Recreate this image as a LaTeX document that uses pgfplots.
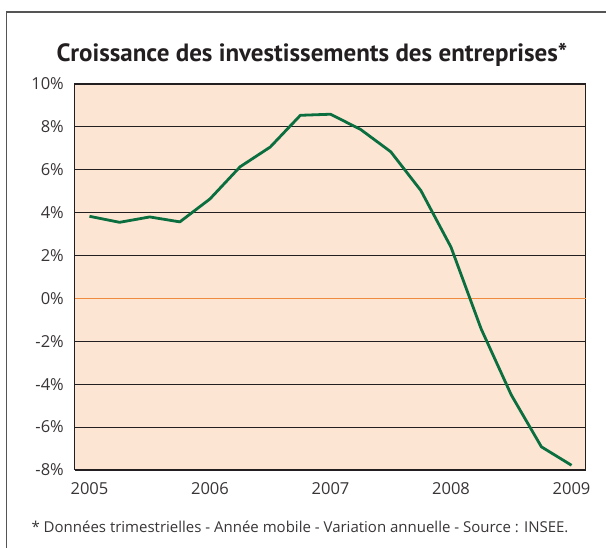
\documentclass[border=0pt]{standalone}
\usepackage{pgfplots}
\pgfplotsset{compat=1.18}
\usepackage{fontspec}
\setmainfont{Open Sans}
\newfontfamily\titlefont{PT Sans}
\definecolor{peach}{HTML}{FDE5D3}
\definecolor{dgreen}{HTML}{0A6E3F}
\definecolor{zorange}{HTML}{F08A3C}
\definecolor{gridk}{HTML}{231F20}
\definecolor{framegray}{HTML}{555555}
\begin{document}
\begin{tikzpicture}[x=1pt,y=1pt]
\useasboundingbox (0,0) rectangle (606,548);
\draw[framegray, line width=1.3pt] (6.7,0) -- (6.7,536) -- (606,536);
\node[anchor=base, font=\titlefont\fontsize{25}{30}\selectfont\bfseries, text=gridk] at (312,486) {Croissance des investissements des entreprises*};
\begin{axis}[
  at={(75pt,78pt)}, anchor=south west,
  scale only axis, width=511pt, height=386pt,
  xmin=2004.88, xmax=2009.12,
  ymin=-8, ymax=10,
  axis background/.style={fill=peach},
  axis line style={gridk, line width=1pt},
  xtick={2005,2006,2007,2008,2009},
  xticklabels={2005,2006,2007,2008,2009},
  ytick={-8,-6,...,10},
  yticklabels={-8\%,-6\%,-4\%,-2\%,0\%,2\%,4\%,6\%,8\%,10\%},
  major tick length=0pt,
  tick style={draw=none},
  ymajorgrids,
  grid style={gridk, line width=1.1pt},
  xticklabel style={anchor=base, inner sep=0pt, yshift=-25pt, font=\fontsize{16.5}{20}\selectfont, text=gridk!90},
  yticklabel style={anchor=east, inner sep=0pt, xshift=-11pt, font=\fontsize{16.5}{20}\selectfont, text=gridk!90},
  clip=false,
]
\addplot[zorange, line width=1.4pt, forget plot] coordinates {(2004.88,0) (2009.12,0)};
\addplot[dgreen, line width=2.8pt, line join=round] coordinates {
(2005.00,3.83)
(2005.25,3.55)
(2005.50,3.80)
(2005.75,3.57)
(2006.00,4.64)
(2006.25,6.14)
(2006.50,7.06)
(2006.75,8.54)
(2007.00,8.59)
(2007.25,7.88)
(2007.50,6.84)
(2007.75,5.03)
(2008.00,2.39)
(2008.25,-1.42)
(2008.50,-4.50)
(2008.75,-6.92)
(2009.00,-7.78)
};
\end{axis}
\node[anchor=base, font=\fontsize{15}{18}\selectfont, text=gridk!90] at (300,15) {* Données trimestrielles - Année mobile - Variation annuelle - Source : INSEE.};
\end{tikzpicture}
\end{document}
